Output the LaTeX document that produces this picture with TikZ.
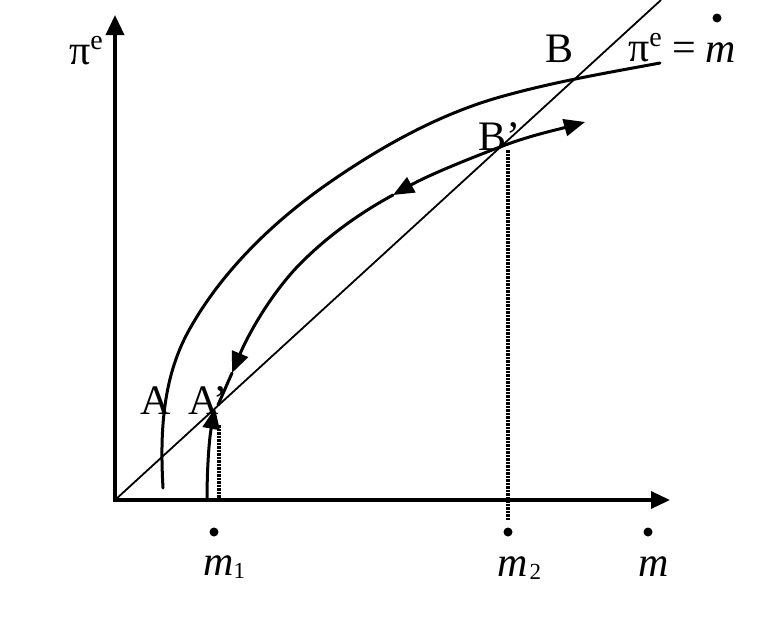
\documentclass[tikz,border=0pt]{standalone}
\usepackage{fontspec}
\setmainfont{Liberation Serif}
\usetikzlibrary{arrows.meta}

\newcommand{\supe}{\raisebox{15pt}{\fontsize{28}{30}\selectfont e}}
\newcommand{\subn}[1]{\raisebox{-3pt}{\fontsize{23}{25}\selectfont #1}}

\begin{document}
\begin{tikzpicture}[
  x=1pt, y=-1pt,
  axis/.style={line width=3.5pt, {Triangle[length=20pt,width=18pt]}-{Triangle[length=19pt,width=17pt]}},
  curve/.style={line width=3pt, line cap=round, line join=round},
  flow/.style={curve, -{Triangle[length=21pt,width=17pt]}},
  diag/.style={line width=1.8pt},
  guide/.style={line width=3.2pt, dash pattern=on 2.6pt off 0.9pt},
  lbl/.style={inner sep=0pt, anchor=base west, font=\fontsize{42}{48}\selectfont},
  dotm/.style={fill=black},
]
\useasboundingbox (0,0) rectangle (778,643);

% axes
\coordinate (O) at (115,500);
\coordinate (ytip) at (115,15);
\coordinate (xtip) at (670,500);
\draw [axis] (ytip) -- (O) -- (xtip);

% line pi^e = m
\coordinate (diagend) at (661,0);
\draw [diag] (O) -- (diagend);

% long-run curve
\draw [curve] (163,488) .. controls (160,435) and (162,380) .. (188,332)
  .. controls (222,270) and (276,219) .. (333,180)
  .. controls (384,145) and (440,114) .. (500,97)
  .. controls (553,82) and (606,73) .. (660,63);

% adjustment path
\coordinate (Ap) at (218,405);
\coordinate (Bp) at (500,147);
\coordinate (Q1) at (297,267);
\coordinate (Q2) at (393,195);
\coordinate (Q4) at (585,122);
\coordinate (T) at (232,373);
\draw [flow] (207,500) .. controls (207,470) and (209,440) .. (215,408);
\draw [flow] (Bp) .. controls (528,136) and (556,130) .. (Q4);
\draw [flow] (Bp) .. controls (463,161) and (427,176) .. (Q2);
\draw [flow] (Q2) .. controls (358,214) and (325,238) .. (Q1)
  .. controls (269,297) and (248,335) .. (T);
\draw [curve] (T) -- (Ap);

% guides
\draw [guide] (219,425) -- (219,500);
\draw [guide] (508,150) -- (508,520);

% labels
\node [lbl] (pe) at (69,64) {π\supe};
\node [lbl] (B) at (545,62) {B};
\node [lbl] (eq) at (628,61) {π\supe\ =};
\node [lbl] (mdot) at (705,62) {\textit{m}};
\node [lbl] (Bl) at (478,150) {B’};
\node [lbl] (A) at (140,414) {A};
\node [lbl] (Al) at (188,414) {A’};
\node [lbl] (m1) at (203,575) {\textit{m}\subn{1}};
\node [lbl] (m2) at (497,576) {\textit{m}\kern2pt\subn{2}};
\node [lbl] (m) at (638,576) {\textit{m}};

% dots of the growth rates
\path [dotm] (717,18) circle [radius=4.5];
\path [dotm] (214,532) circle [radius=4.5];
\path [dotm] (508,532) circle [radius=4.5];
\path [dotm] (648,532) circle [radius=4.5];

\end{tikzpicture}
\end{document}
